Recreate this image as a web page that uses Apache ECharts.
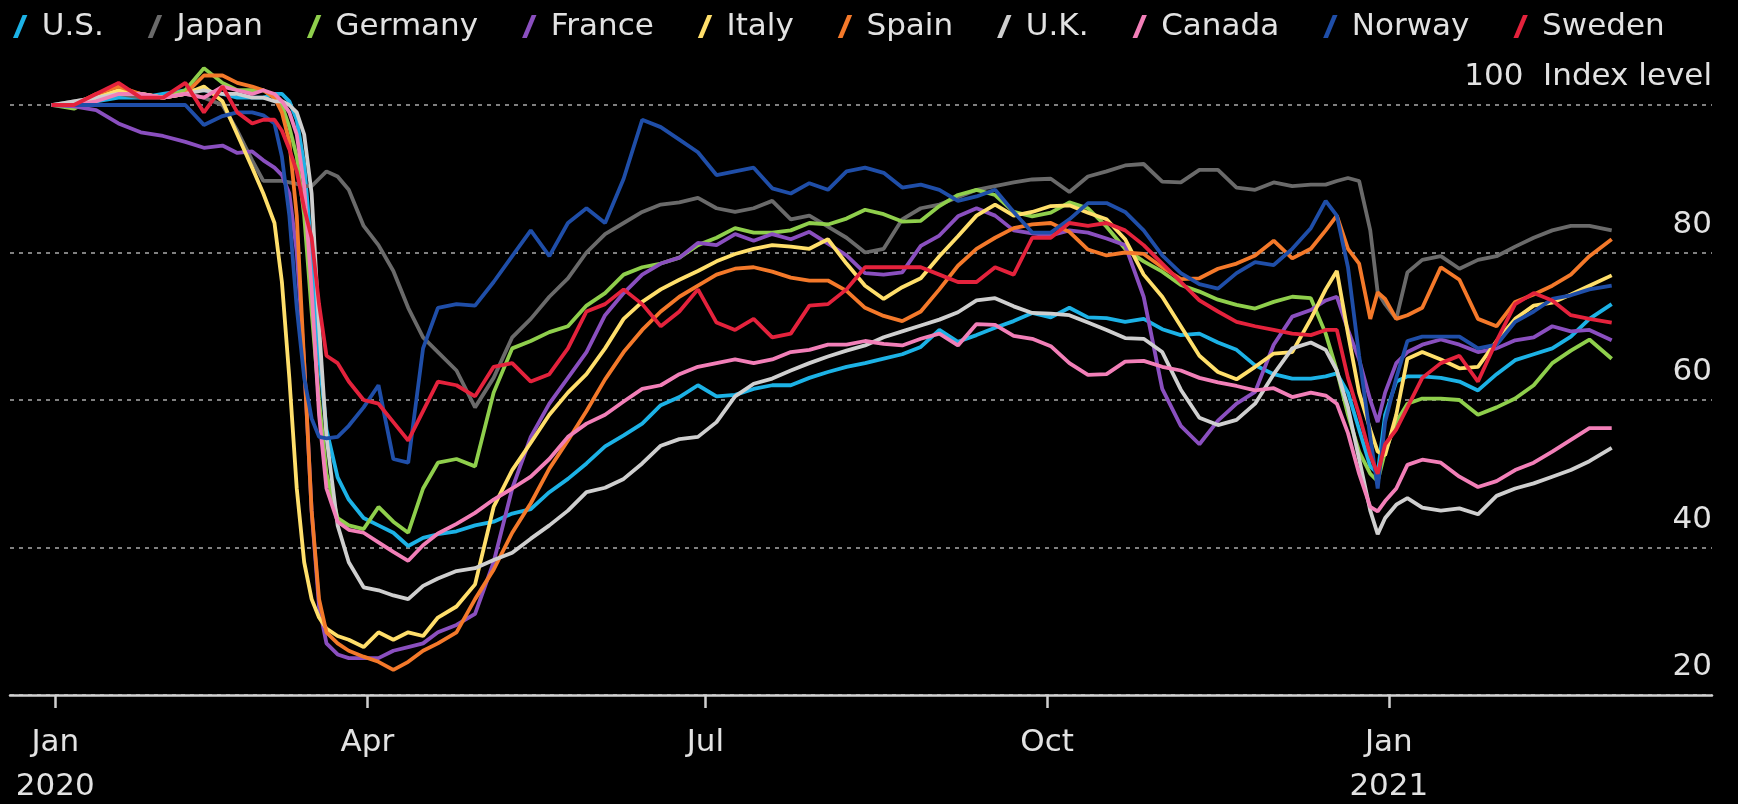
<!DOCTYPE html>
<html>
<head>
<meta charset="utf-8">
<title>Mobility index</title>
<script src="https://cdn.jsdelivr.net/npm/echarts@6/dist/echarts.min.js"></script>
<style>
  html, body { margin: 0; padding: 0; background: #000; }
  #chart { width: 1738px; height: 804px; }
</style>
</head>
<body>
<div id="chart"></div>
<script>
// x = days since 1 Jan 2020
const days = [
  6, 12, 18, 24, 30, 36, 42, 47, 52, 56,
  60, 63, 66, 68, 70, 72, 74, 76, 78, 80,
  83, 86, 90, 94, 98, 102, 106, 110, 115, 120,
  125, 130, 135, 140, 145, 150, 155, 160, 165, 170,
  175, 180, 185, 190, 195, 200, 205, 210, 215, 220,
  225, 230, 235, 240, 245, 250, 255, 260, 265, 270,
  275, 280, 285, 290, 295, 300, 305, 310, 315, 320,
  325, 330, 335, 340, 345, 349, 352, 355, 358, 361,
  363, 365, 368, 371, 375, 380, 385, 390, 395, 400,
  405, 410, 415, 420, 426
]

const tickDays = [7, 91, 182, 274, 366]
const tickLabels = ['Jan\n2020', 'Apr', 'Jul', 'Oct', 'Jan\n2021']

const countries = ['U.S.', 'Japan', 'Germany', 'France', 'Italy', 'Spain', 'U.K.', 'Canada', 'Norway', 'Sweden']
const colors = ['#1cb2e6', '#6a6a6a', '#8fcf4c', '#8a4fbf', '#ffdf6b', '#f4792a', '#cfcfcf', '#f27fb8', '#1f4ea8', '#e4223c']

const usVals = [
  100, 100, 100.5, 101, 101, 101.5, 102, 102, 101.5, 101,
  101, 101, 101.5, 101.5, 100.5, 98, 92, 80, 66, 56,
  49.5, 46.5, 44, 43, 42, 40.2, 41.3, 41.8, 42.2, 43,
  43.5, 44.6, 45.2, 47.5, 49.3, 51.4, 53.7, 55.2, 56.8, 59.3,
  60.4, 62, 60.5, 60.7, 61.5, 62, 62, 63, 63.8, 64.5,
  65, 65.6, 66.2, 67.2, 69.5, 67.9, 68.8, 69.8, 70.7, 71.8,
  71.2, 72.5, 71.2, 71.1, 70.6, 71, 69.6, 68.8, 69, 67.8,
  66.8, 64.7, 63.5, 62.9, 62.9, 63.2, 63.6, 61, 56, 51,
  50, 58, 62.5, 63.2, 63.2, 63, 62.5, 61.3, 63.5, 65.4,
  66.2, 67, 68.6, 71, 73
]
const japanVals = [
  100, 100.5, 101, 101.5, 101, 101, 101.5, 101, 100, 96.5,
  92.5, 89.7, 89.7, 89.7, 89.5, 89.3, 89, 89, 90, 91,
  90.3, 88.5, 83.6, 81, 77.5, 72.5, 68.5, 66.5, 64, 59,
  63, 68.5, 71, 74, 76.5, 80, 82.5, 84, 85.5, 86.5,
  86.8, 87.4, 86, 85.5, 86, 87, 84.5, 85, 83.5, 82,
  80, 80.5, 84.5, 86, 86.5, 87.5, 88.5, 89, 89.5, 89.9,
  90, 88.2, 90.3, 91, 91.8, 92, 89.6, 89.5, 91.2, 91.2,
  88.8, 88.5, 89.5, 89, 89.2, 89.2, 89.7, 90.1, 89.7, 83,
  74.6, 73, 71, 77.3, 79, 79.5, 77.8, 79, 79.5, 80.8,
  82, 83, 83.6, 83.6, 83
]
const germanyVals = [
  100, 99.5, 101, 102, 101.5, 101, 102, 105, 103, 102,
  102, 102, 101, 100, 97, 93, 85, 72, 60, 50,
  44, 43, 42.5, 45.5, 43.5, 42, 48, 51.5, 52, 51,
  61, 67, 68, 69.2, 70, 72.8, 74.5, 77, 78, 78.5,
  79.3, 81, 82, 83.3, 82.7, 82.7, 83, 84, 83.8, 84.6,
  85.8, 85.2, 84.2, 84.3, 86.3, 87.8, 88.5, 87.8, 85.5, 84.9,
  85.4, 86.8, 86, 83.5, 80.5, 78.8, 77.4, 75.6, 74.7, 73.6,
  72.9, 72.4, 73.3, 74, 73.8, 69, 64, 58, 53, 50,
  49, 53, 57, 59.5, 60.2, 60.2, 60, 58, 59, 60.2,
  62, 65, 66.7, 68.2, 65.6
]
const franceVals = [
  100, 99.8, 99.3, 97.5, 96.3, 95.8, 95, 94.2, 94.5, 93.5,
  93.7, 92.5, 91.5, 90.5, 88, 80, 65, 45, 32, 27,
  25.5, 25, 25, 25, 26, 26.5, 27, 28.5, 29.5, 31,
  38, 48, 55, 59.5, 63, 66.5, 71.5, 74.5, 77, 78.5,
  79.3, 81.3, 81, 82.5, 81.6, 82.5, 81.8, 82.8, 81.2, 79.6,
  77.2, 77, 77.3, 80.9, 82.3, 84.9, 86, 85, 83, 82.6,
  82.3, 83, 82.7, 81.9, 81, 74, 61.5, 56.5, 54, 57.2,
  59.5, 61.1, 67.5, 71.3, 72.2, 73.5, 74, 69.5, 65.5, 60,
  57, 61, 65, 66.5, 67.5, 68.2, 67.5, 66.5, 67, 68.1,
  68.5, 70, 69.3, 69.5, 68.1
]
const italyVals = [
  100, 100, 101, 102, 101.5, 101, 101.5, 102.5, 100.5, 96,
  91.5, 88, 84, 76, 63, 48, 38, 33, 30.5, 29,
  28, 27.5, 26.5, 28.5, 27.5, 28.5, 28, 30.5, 32, 35,
  45.5, 50.5, 54.2, 58, 61, 63.5, 67, 71, 73.3, 75,
  76.3, 77.5, 78.8, 79.8, 80.5, 81, 80.8, 80.5, 81.8, 78.5,
  75.5, 73.7, 75.3, 76.5, 79.5, 82.2, 85, 86.5, 85, 85.5,
  86.3, 86.4, 85.4, 84.5, 81.8, 77, 74, 70, 66, 63.8,
  62.8, 64.5, 66.3, 66.5, 71, 75, 77.5, 69, 61, 56,
  53, 52.5, 58, 65.6, 66.5, 65.5, 64.3, 64.5, 68, 71,
  72.8, 73.2, 74.3, 75.5, 76.9
]
const spainVals = [
  100, 100, 101.5, 102.5, 101.5, 101, 101.5, 104, 104, 103,
  102.5, 102, 101, 99, 95, 85, 65, 45, 33, 28.5,
  27, 26, 25.2, 24.5, 23.4, 24.5, 26, 27, 28.5, 33,
  37, 42, 46, 50.7, 54.5, 58.5, 62.8, 66.5, 69.5, 72,
  74, 75.5, 77, 77.8, 78, 77.4, 76.6, 76.2, 76.2, 74.8,
  72.5, 71.4, 70.7, 72, 75, 78.2, 80.5, 82, 83.3, 83.8,
  84, 82.8, 80.4, 79.6, 80, 79.8, 78, 76.4, 76.5, 77.8,
  78.5, 79.6, 81.6, 79.2, 80.5, 83, 85, 80.5, 78.5, 71,
  74.6, 73.7, 71, 71.5, 72.5, 78, 76.3, 71, 70, 73.3,
  74.3, 75.5, 77, 79.5, 81.8
]
const ukVals = [
  100, 100.5, 101, 101.5, 101.5, 101, 101.5, 102, 101.5, 101.5,
  101, 101, 100.5, 100.5, 100, 99, 96, 88, 70, 55,
  43, 38, 34.6, 34.2, 33.5, 33, 34.8, 35.8, 36.8, 37.2,
  38.3, 39.3, 41.2, 43, 45, 47.5, 48.1, 49.3, 51.4, 53.8,
  54.7, 55, 57, 60.5, 62.2, 62.9, 64, 65, 65.9, 66.7,
  67.4, 68.5, 69.3, 70.1, 70.9, 71.9, 73.5, 73.8, 72.7, 71.8,
  71.7, 71.5, 70.5, 69.5, 68.4, 68.3, 66.5, 61.4, 57.6, 56.6,
  57.3, 59.5, 63.5, 67, 67.8, 66.8, 64, 59, 52, 45,
  41.8, 44, 45.8, 46.7, 45.4, 45, 45.3, 44.5, 47, 48,
  48.7, 49.6, 50.5, 51.7, 53.5
]
const canadaVals = [
  100, 100, 100.5, 101.5, 101.5, 101, 101.5, 101, 102.5, 102,
  101.5, 102, 101.5, 100.5, 99, 96, 89, 75, 58, 48,
  43.5, 42.4, 42, 40.7, 39.4, 38.2, 40.3, 41.9, 43.2, 44.7,
  46.5, 48, 49.6, 52, 55, 56.8, 58, 59.8, 61.5, 62,
  63.5, 64.5, 65, 65.5, 65, 65.5, 66.5, 66.8, 67.5, 67.5,
  68, 67.6, 67.4, 68.3, 69, 67.4, 70.3, 70.2, 68.7, 68.3,
  67.3, 65, 63.4, 63.5, 65.2, 65.3, 64.5, 64, 63, 62.4,
  61.9, 61.3, 61.6, 60.4, 61, 60.6, 59.5, 55.5, 50, 45.5,
  44.9, 46.3, 48, 51.2, 51.9, 51.5, 49.6, 48.2, 49, 50.5,
  51.5, 53, 54.6, 56.2, 56.2
]
const norwayVals = [
  100, 100, 100, 100, 100, 100, 100, 97.3, 98.5, 99,
  99, 98.6, 97.5, 93, 85, 72.5, 63, 57.5, 55, 54.8,
  55, 56.5, 59, 62, 52, 51.5, 67, 72.5, 73, 72.8,
  76, 79.5, 83, 79.5, 84, 86, 84, 90, 98, 97,
  95.3, 93.6, 90.5, 91, 91.5, 88.7, 88, 89.4, 88.5, 91,
  91.5, 90.8, 88.8, 89.2, 88.5, 87, 87.6, 88.5, 85.5, 82.7,
  82.7, 84.5, 86.7, 86.7, 85.5, 83, 79.6, 77.2, 75.7, 75.1,
  77.2, 78.7, 78.3, 80.5, 83.3, 87, 85, 78, 66, 55,
  48, 57, 63, 68, 68.6, 68.6, 68.6, 67, 67.5, 70.6,
  72, 73.7, 74.2, 75, 75.5
]
const swedenVals = [
  100, 100, 101.5, 103, 101, 101, 103, 99, 102.5, 99,
  97.5, 98, 98, 96.5, 94, 91, 86, 82, 73, 66,
  65, 62.5, 60, 59.5, 57, 54.5, 58.5, 62.5, 62, 60.5,
  64.5, 65, 62.5, 63.5, 67, 72, 73, 75, 73, 70,
  72, 75, 70.5, 69.5, 71, 68.5, 69, 72.8, 73, 75,
  78, 78, 78, 78, 77, 76, 76, 78, 77, 82,
  82, 84, 83.6, 84, 83, 81, 78.5, 76, 73.5, 72,
  70.6, 70, 69.5, 69, 68.8, 69.5, 69.5, 63, 58, 52.5,
  50, 54, 56, 59, 63, 65, 66, 62.5, 68, 73,
  74.5, 73.5, 71.5, 71, 70.5
]

const allVals = [usVals, japanVals, germanyVals, franceVals, italyVals, spainVals, ukVals, canadaVals, norwayVals, swedenVals]

const fontFamily = "'DejaVu Sans', sans-serif"
const textColor = '#e2e2e2'

const chart = echarts.init(document.getElementById('chart'))

const series = countries.map((name, i) => ({
  name: name,
  type: 'line',
  data: days.map((d, j) => [d, allVals[i][j]]),
  symbol: 'none',
  clip: false,
  color: colors[i],
  lineStyle: { width: 3.8, color: colors[i] },
  emphasis: { disabled: true }
}))

chart.setOption({
  animation: false,
  backgroundColor: '#000',
  textStyle: { fontFamily: fontFamily },
  legend: {
    data: countries,
    top: 6,
    left: 8,
    itemGap: 44,
    itemWidth: 15,
    itemHeight: 23,
    icon: 'path://M0,24 L10,0 L15,0 L5,24 Z',
    textStyle: { color: textColor, fontSize: 31, fontFamily: fontFamily, padding: [0, 0, 0, 9] },
    selectedMode: false
  },
  // keep the plot box fixed; the two-line date labels may run to the bottom edge
  grid: { left: 10, right: 26, top: 105, bottom: 109, outerBoundsMode: 'none' },
  xAxis: {
    type: 'value',
    min: -5.2,
    max: 453,
    splitLine: { show: false },
    axisLine: { lineStyle: { color: '#d0d0d0', width: 2.5 } },
    axisTick: {
      customValues: tickDays,
      length: 13,
      lineStyle: { color: '#d0d0d0', width: 2.5 }
    },
    axisLabel: {
      customValues: tickDays,
      color: textColor,
      fontSize: 31,
      lineHeight: 44,
      margin: 26,
      fontFamily: fontFamily,
      formatter: v => tickLabels[tickDays.indexOf(Math.round(v))] || ''
    }
  },
  yAxis: {
    type: 'value',
    position: 'right',
    min: 20,
    max: 100,
    interval: 20,
    axisLine: { show: false },
    axisTick: { show: false },
    splitLine: { lineStyle: { type: [4, 5], color: '#808080', width: 2 } },
    axisLabel: {
      inside: true,
      margin: 0,
      color: textColor,
      fontSize: 31,
      lineHeight: 32,
      verticalAlign: 'bottom',
      padding: [0, 0, 12, 0],
      fontFamily: fontFamily,
      formatter: v => v === 100 ? '100  Index level' : String(v)
    }
  },
  series: series
})

window.addEventListener('resize', () => chart.resize())
</script>
</body>
</html>
